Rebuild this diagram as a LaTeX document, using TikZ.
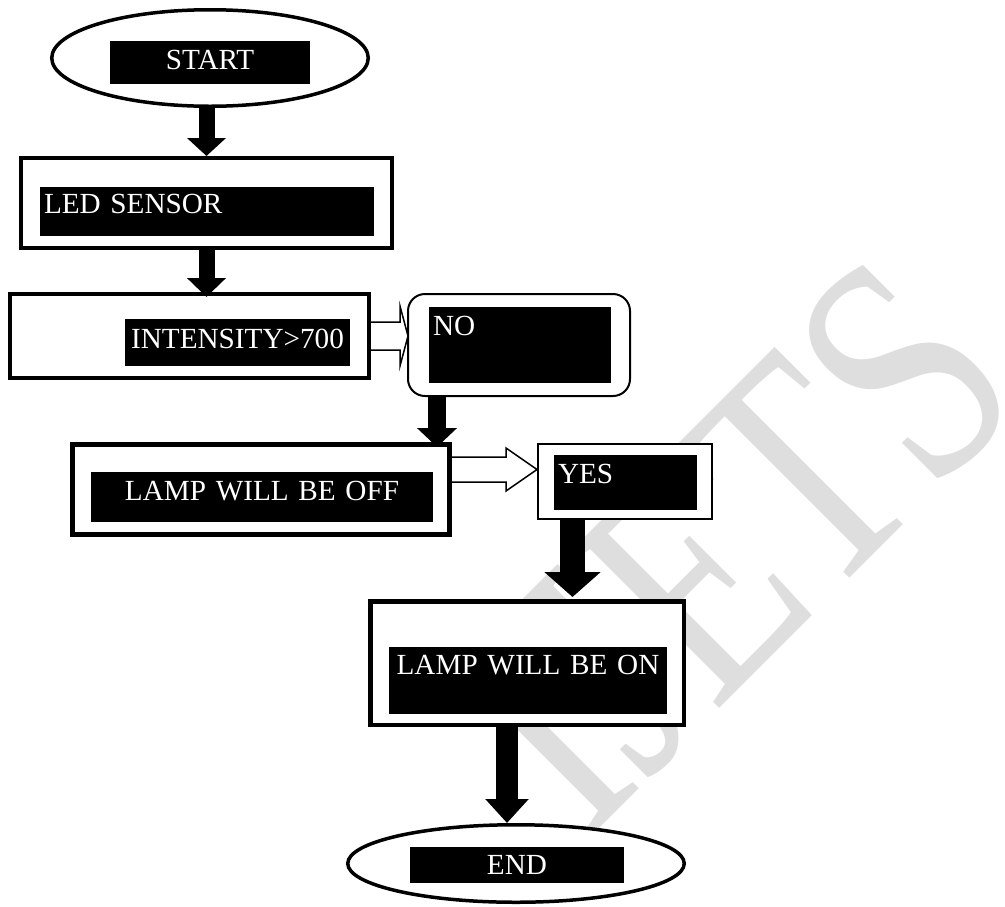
\documentclass[tikz,border=0pt]{standalone}
\usepackage{fontspec}
\setmainfont{Liberation Serif}
\usetikzlibrary{shapes.geometric,arrows.meta,calc,positioning}
\definecolor{wmgray}{HTML}{DEDEDE}
\begin{document}
\begin{tikzpicture}[x=1pt, y=1pt, node distance=140pt,
    term/.style={ellipse, draw, line width=3.5pt, fill=white, inner sep=0pt},
    stepbox/.style={rectangle, draw, line width=4pt, fill=white, inner sep=0pt},
    choice/.style={rectangle, draw, line width=2pt, fill=white, inner sep=0pt},
    txt/.style={rectangle, fill=black, text=white, inner xsep=4pt, inner ysep=0pt, text height=28pt},
    hollow/.style={draw, line width=1.5pt, fill=white}]
        \tikzstyle{every node}=[font=\fontsize{29.2}{35}\selectfont]
        \useasboundingbox (0,0) rectangle (1005,-906);

          % watermark behind everything
          \node[text=wmgray, font=\fontsize{330}{330}\selectfont, anchor=base, rotate=45, xscale=0.76, inner sep=0pt] (0) at (808,-620) {IJETS};

          \node[term, minimum width=316.5pt, minimum height=96.5pt] (1) at (210,-58) {};
          \node[stepbox, minimum width=371pt, minimum height=90pt] (2) [node distance=145pt, below of=1, xshift=-3.5pt] {};
          \node[stepbox, minimum width=359pt, minimum height=84pt] (3) [node distance=133pt, below of=2, xshift=-17pt] {};
          \node[choice, rounded corners=17pt, minimum width=222pt, minimum height=102pt] (4) [node distance=329.5pt, right of=3, yshift=-9pt] {};
          \node[stepbox, line width=5pt, minimum width=377pt, minimum height=90pt] (5) [node distance=153.5pt, below of=3, xshift=71.5pt] {};
          \node[choice, minimum width=174pt, minimum height=75pt] (6) [node distance=364pt, right of=5, yshift=8pt] {};
          \node[stepbox, line width=4.5pt, minimum width=313.5pt, minimum height=123.5pt] (7) [node distance=181.5pt, below of=6, xshift=-98pt] {};
          \node[term, minimum width=336.5pt, minimum height=77.5pt] (8) [node distance=200.5pt, below of=7, xshift=-11pt] {};

          % black labels
          \node[txt, text width=192pt, align=center, text depth=15pt] (1a) at ([yshift=-4.5pt]1.center) {START};
          \node[txt, text width=326pt, align=left, text height=26pt, text depth=23pt] (2a) at ([shift={(0.5,-8.5)}]2.center) {LED SENSOR};
          \node[txt, text width=217pt, align=center, text height=29pt, text depth=18pt] (3a) at ([shift={(48,-6.5)}]3.center) {INTENSITY>700};
          \node[txt, text width=174pt, align=left, text depth=48pt] (4a) at ([xshift=1pt]4.center) {NO};
          \node[txt, text width=334pt, align=center, text depth=22pt] (5a) at ([shift={(1,-7.5)}]5.center) {LAMP WILL BE OFF};
          \node[txt, text width=135pt, align=left, text depth=27pt] (6a) at ([shift={(0.5,-1)}]6.center) {YES};
          \node[txt, text width=270pt, align=center, text height=27pt, text depth=40pt] (7a) at ([shift={(1,-17.5)}]7.center) {LAMP WILL BE ON};
          \node[txt, text width=206pt, align=center, text height=27pt, text depth=9pt] (8a) at ([shift={(1,-1.5)}]8.center) {END};

          \coordinate (4s) at ([xshift=30pt]4.south west);
          \coordinate (6s) at ([xshift=35.5pt]6.south west);
          \coordinate (7s) at ([xshift=-20pt]7.south);

          \draw[line width=16pt, -{Triangle[length=18pt, width=38pt]}] (2.north |- 1.south) -- (2.north);
          \draw[line width=16pt, -{Triangle[length=19pt, width=38pt]}, shorten >=-5pt] (2.south) -- (2.south |- 3.north);
          \draw[line width=18pt, -{Triangle[length=19pt, width=39pt]}, shorten >=-5pt] (4s) -- (4s |- 5.north);
          \draw[line width=25pt, -{Triangle[length=25pt, width=55pt]}, shorten >=2pt] (6s) -- (6s |- 7.north);
          \draw[line width=22pt, -{Triangle[length=24pt, width=42pt]}] (7s) -- (7s |- 8.north);

          \draw[hollow] let \p1=(3.east), \p2=(4.west) in
            (\x1,\y1+14pt) -- (\x2-7pt,\y1+14pt) -- (\x2-7pt,\y1+30pt) -- (\x2+1pt,\y1)
            -- (\x2-7pt,\y1-30pt) -- (\x2-7pt,\y1-14pt) -- (\x1,\y1-14pt);
          \draw[hollow] let \p1=(5.east), \p2=(6.west) in
            (\x1,\y1+32.5pt) -- (\x2-31pt,\y1+32.5pt) -- (\x2-31pt,\y1+41.5pt) -- (\x2,\y1+20pt)
            -- (\x2-31pt,\y1-1.5pt) -- (\x2-31pt,\y1+7.5pt) -- (\x1,\y1+7.5pt);

        \end{tikzpicture}
\end{document}
